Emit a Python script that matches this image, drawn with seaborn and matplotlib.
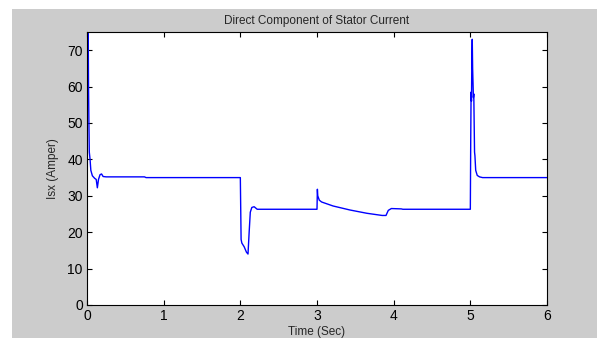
import matplotlib
matplotlib.use("Agg")
import matplotlib.pyplot as plt
import seaborn as sns
import pandas as pd
from matplotlib.patches import Rectangle

time_s = [0, 0.003, 0.006, 0.009, 0.012, 0.016, 0.02, 0.025, 0.03, 0.04, 0.05, 0.07,
          0.1, 0.12, 0.135, 0.15, 0.17, 0.19, 0.21, 0.25, 0.75, 0.77,
          2.0, 2.005, 2.01, 2.02, 2.05, 2.08, 2.1, 2.115, 2.13, 2.15, 2.18, 2.22,
          3.0, 3.005, 3.01, 3.03, 3.06, 3.21, 3.43, 3.65, 3.85, 3.9, 3.93, 3.97, 4.1, 4.12,
          5.0, 5.005, 5.01, 5.015, 5.02, 5.025, 5.03, 5.04, 5.045, 5.05, 5.055, 5.06,
          5.07, 5.09, 5.12, 5.16, 6.0]
isx_amp = [0, 95, 60, 85, 62, 75, 60, 50, 42, 40, 37, 35.5,
           34.8, 34.5, 32.2, 34.5, 35.8, 36, 35.3, 35.2, 35.2, 35.0,
           35.0, 26.5, 18, 17, 16, 14.5, 14, 20, 25.5, 26.8, 27, 26.3,
           26.3, 31.8, 30, 28.8, 28.3, 27.2, 26.1, 25.2, 24.6, 24.6, 26, 26.5, 26.4, 26.3,
           26.3, 45, 58.5, 56, 68, 73, 65, 57, 58, 50, 42, 41,
           37, 35.6, 35.2, 35, 35]
x_ticks = [0, 1, 2, 3, 4, 5, 6]
y_ticks = [0, 10, 20, 30, 40, 50, 60, 70]

df = pd.DataFrame({"t": time_s, "v": isx_amp})

sns.set_style("ticks")
plt.rcParams["font.family"] = ["Liberation Sans", "DejaVu Sans"]

W, H = 597, 338
fig = plt.figure(figsize=(W / 100, H / 100), dpi=100, facecolor="white")
bg = Rectangle((12 / W, 0), 1 - 12 / W, 1 - 9 / H,
               transform=fig.transFigure, facecolor="#cccccc",
               edgecolor="none", zorder=-10)
fig.add_artist(bg)
ax = fig.add_axes([87 / W, 1 - 305 / H, (547 - 87) / W, (305 - 32) / H])
ax.set_zorder(1)
ax.set_facecolor("white")

sns.lineplot(data=df, x="t", y="v", ax=ax, color="#0000ff", linewidth=1.0,
             sort=False, estimator=None)

ax.set_xlim(0, 6)
ax.set_ylim(0, 75)
ax.set_xticks(x_ticks)
ax.set_yticks(y_ticks)
ax.tick_params(direction="in", length=3.5, width=0.8, top=True, right=True,
               labelsize=10, colors="black", pad=3)
for s in ax.spines.values():
    s.set_visible(True)
    s.set_color("black")
    s.set_linewidth(0.8)
ax.set_title("Direct Component of Stator Current", fontsize=8.5, pad=6)
ax.set_xlabel("Time (Sec)", fontsize=8.5, labelpad=2)
ax.set_ylabel("Isx (Amper)", fontsize=8.5, labelpad=6)

fig.savefig("out.png", dpi=100, facecolor=fig.get_facecolor())
